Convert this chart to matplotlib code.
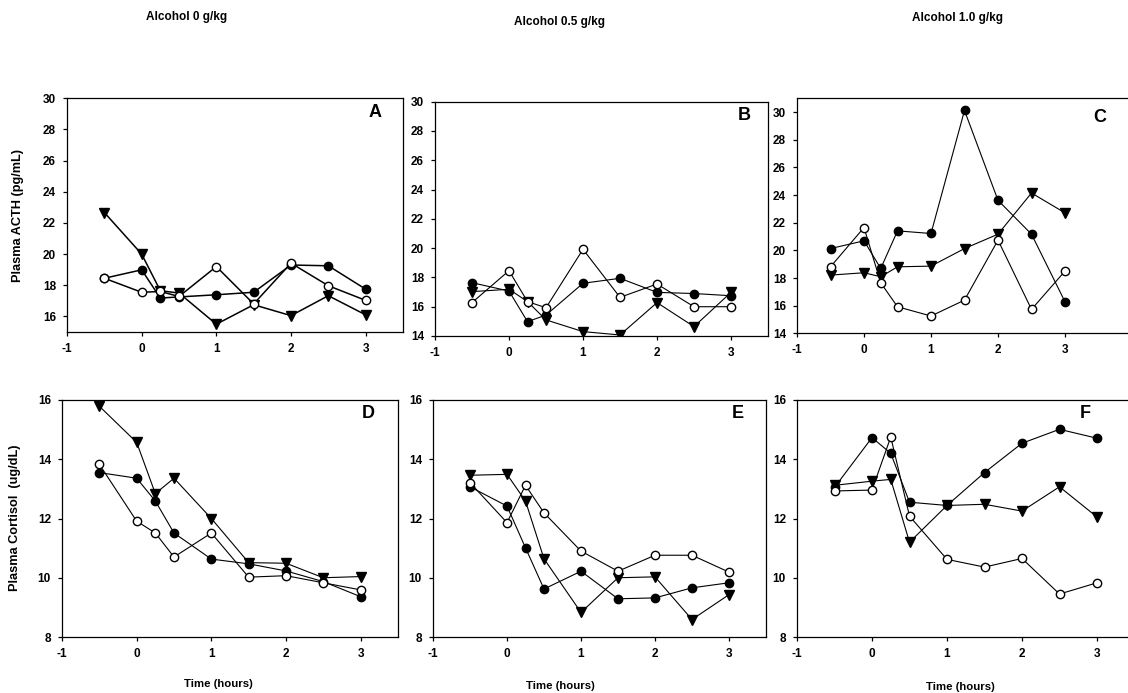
import matplotlib
matplotlib.use('Agg')
import matplotlib.pyplot as plt

plt.rcParams['font.family'] = ['Liberation Sans', 'DejaVu Sans']
plt.rcParams['font.weight'] = 'bold'
plt.rcParams['axes.unicode_minus'] = False

# time points (hours)
t = [-0.5, 0, 0.25, 0.5, 1, 1.5, 2, 2.5, 3]

# ACTH (pg/mL)
acth_a_filled = [18.45, 18.99, 17.18, 17.25, 17.39, 17.55, 19.3, 19.25, 17.75]
acth_a_open = [18.45, 17.55, 17.6, 17.28, 19.2, 16.8, 19.42, 17.97, 17.03]
acth_a_tri = [22.67, 20.0, 17.65, 17.5, 15.5, 16.75, 16.05, 17.33, 16.1]

acth_b_filled = [17.64, 17.07, 14.98, 15.43, 17.6, 17.94, 16.98, 16.9, 16.75]
acth_b_open = [16.28, 18.46, 16.35, 15.93, 19.92, 16.64, 17.55, 16.0, 16.0]
acth_b_tri = [17.03, 17.19, 16.35, 15.1, 14.3, 14.07, 16.28, 14.64, 16.98]

acth_c_filled = [20.13, 20.69, 18.69, 21.41, 21.22, 30.12, 23.62, 21.17, 16.28]
acth_c_open = [18.81, 21.65, 17.65, 15.92, 15.25, 16.4, 20.74, 15.73, 18.5]
acth_c_tri = [18.21, 18.38, 18.09, 18.81, 18.86, 20.13, 21.17, 24.15, 22.71]

# Cortisol (ug/dL)
cort_d_filled = [13.55, 13.36, 12.59, 11.51, 10.63, 10.47, 10.23, 9.87, 9.36]
cort_d_open = [13.83, 11.91, 11.51, 10.7, 11.51, 10.02, 10.07, 9.83, 9.59]
cort_d_tri = [15.79, 14.57, 12.84, 13.36, 12.0, 10.51, 10.49, 10.0, 10.04]

cort_e_filled = [13.07, 12.42, 11.01, 9.62, 10.22, 9.29, 9.32, 9.66, 9.83]
cort_e_open = [13.21, 11.86, 13.12, 12.19, 10.9, 10.22, 10.76, 10.76, 10.19]
cort_e_tri = [13.46, 13.49, 12.59, 10.64, 8.83, 10.0, 10.03, 8.59, 9.43]

cort_f_filled = [13.05, 14.73, 14.2, 12.55, 12.44, 13.55, 14.54, 15.01, 14.71]
cort_f_open = [12.93, 12.96, 14.75, 12.08, 10.62, 10.36, 10.65, 9.45, 9.83]
cort_f_tri = [13.12, 13.26, 13.32, 11.2, 12.44, 12.48, 12.25, 13.07, 12.05]

W, H = 1128, 693
fig = plt.figure(figsize=(W / 100, H / 100), dpi=100)


def box(l, r, top, bot):
    return [l / W, 1 - bot / H, (r - l) / W, (bot - top) / H]


def panel(rect, filled, opn, tri, xlim, ylim, yticks, letter, lpos, lw=0.8):
    ax = fig.add_axes(rect)
    ax.plot(t, filled, '-o', color='black', mfc='black', mec='black', ms=6, lw=lw)
    ax.plot(t, tri, '-v', color='black', mfc='black', mec='black', ms=6.5, lw=lw)
    ax.plot(t, opn, '-o', color='black', mfc='white', mec='black', ms=6, mew=1.0, lw=lw)
    ax.set_xlim(*xlim)
    ax.set_ylim(*ylim)
    ax.set_xticks([-1, 0, 1, 2, 3])
    ax.set_yticks(yticks)
    ax.tick_params(labelsize=8.5, length=3, width=0.9, pad=5)
    for lab in ax.get_xticklabels() + ax.get_yticklabels():
        lab.set_fontweight('bold')
    for s in ax.spines.values():
        s.set_linewidth(0.9)
    ax.text(lpos[0], lpos[1], letter, transform=ax.transAxes, fontsize=13,
            fontweight='bold', ha='center', va='center')
    return ax


panel(box(67, 403, 98.3, 332), acth_a_filled, acth_a_open, acth_a_tri,
      (-1, 3.5), (15, 30), range(16, 31, 2), 'A', (0.917, 0.94), lw=1.1)
panel(box(435, 768, 101.7, 336), acth_b_filled, acth_b_open, acth_b_tri,
      (-1, 3.5), (14, 30), range(14, 31, 2), 'B', (0.93, 0.943))
panel(box(797, 1132, 98.3, 333.3), acth_c_filled, acth_c_open, acth_c_tri,
      (-1, 4), (14, 31), range(14, 31, 2), 'C', (0.904, 0.92))
panel(box(62, 398, 400, 637), cort_d_filled, cort_d_open, cort_d_tri,
      (-1, 3.5), (8, 16), range(8, 17, 2), 'D', (0.91, 0.945))
panel(box(433, 766, 400, 637), cort_e_filled, cort_e_open, cort_e_tri,
      (-1, 3.5), (8, 16), range(8, 17, 2), 'E', (0.916, 0.945))
panel(box(797, 1134.5, 400, 637), cort_f_filled, cort_f_open, cort_f_tri,
      (-1, 3.5), (8, 16), range(8, 17, 2), 'F', (0.853, 0.945))

# column titles
for x, y, s in [(187, 17, 'Alcohol 0 g/kg'), (560, 22, 'Alcohol 0.5 g/kg'),
                (958, 18, 'Alcohol 1.0 g/kg')]:
    fig.text(x / W, 1 - y / H, s, ha='center', va='center', fontsize=8.5, fontweight='bold')

# axis labels
fig.text(18 / W, 1 - 215 / H, 'Plasma ACTH (pg/mL)', rotation=90, ha='center',
         va='center', fontsize=9.2, fontweight='bold')
fig.text(15 / W, 1 - 518 / H, 'Plasma Cortisol  (ug/dL)', rotation=90, ha='center',
         va='center', fontsize=9.2, fontweight='bold')
for x, y in [(218, 684), (560, 686), (960, 687)]:
    fig.text(x / W, 1 - y / H, 'Time (hours)', ha='center', va='center',
             fontsize=8.2, fontweight='bold')

plt.savefig('out.png', dpi=100)
